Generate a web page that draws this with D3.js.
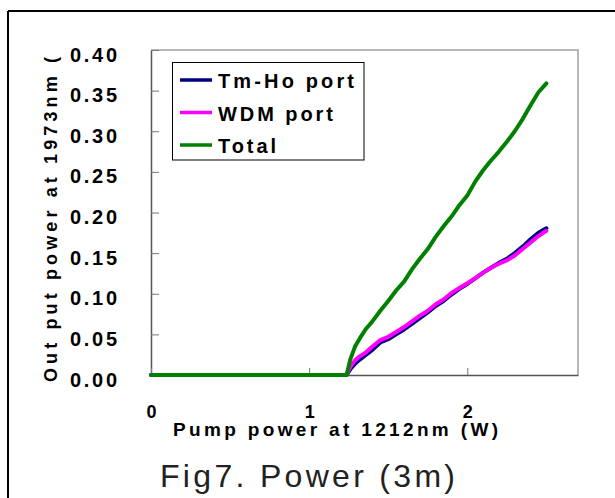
<!DOCTYPE html>
<head>
  <meta charset="utf-8">
  <script src="https://d3js.org/d3.v7.min.js"></script>
  <style>
  body,html {margin:0; background:#fff; font-family:"Liberation Sans", Arial, sans-serif;}
  .lbl {font-weight:bold; fill:#000;}
</style>
</head>

<body>
  <script>

    const width = 615;
    const height = 498;

    // DATA
    const pump = [0, 1.237, 1.26, 1.29, 1.32, 1.36, 1.40, 1.45, 1.50, 1.55, 1.60, 1.65, 1.70, 1.75, 1.80,
      1.85, 1.90, 1.95, 2.00, 2.05, 2.10, 2.15, 2.20, 2.25, 2.30, 2.35, 2.40, 2.45, 2.50];
    const tmHo = [0, 0, 0.007, 0.014, 0.019, 0.025, 0.031, 0.040, 0.044, 0.050, 0.056, 0.063, 0.070, 0.077, 0.085,
      0.091, 0.099, 0.106, 0.112, 0.119, 0.126, 0.132, 0.138, 0.143, 0.150, 0.158, 0.167, 0.175, 0.1805];
    const wdm = [0, 0, 0.010, 0.018, 0.023, 0.028, 0.035, 0.043, 0.047, 0.053, 0.059, 0.066, 0.073, 0.079, 0.087,
      0.093, 0.101, 0.107, 0.113, 0.119, 0.126, 0.132, 0.137, 0.141, 0.147, 0.155, 0.163, 0.171, 0.1775];
    const total = [0, 0, 0.019, 0.035, 0.045, 0.057, 0.066, 0.079, 0.091, 0.104, 0.115, 0.130, 0.143, 0.155, 0.170,
      0.183, 0.195, 0.209, 0.221, 0.238, 0.252, 0.264, 0.275, 0.287, 0.300, 0.315, 0.332, 0.348, 0.359];

    const seriesNames = ["Tm-Ho port", "WDM port", "Total"];
    const seriesColors = ["#000080", "#ff00ff", "#008000"];
    const seriesValues = [tmHo, wdm, total];
    const legendWidths = [136, 115, 58];

    const xTicks = [0, 1, 2];
    const yTicks = [0, 0.05, 0.10, 0.15, 0.20, 0.25, 0.30, 0.35, 0.40];

    const xLabel = "Pump power at 1212nm (W)";
    const yLabel = "Out put power at 1973nm (";
    const title = "Fig7. Power (3m)";

    const x = d3.scaleLinear().domain([0, 2.7]).range([151, 578]);
    const y = d3.scaleLinear().domain([0, 0.4]).range([375, 50]);

    const svg = d3.select("body").append("svg")
    .attr("width", width)
    .attr("height", height);

    // OUTER FRAME (top + left only visible)
    svg.append("line").attr("x1", 8).attr("y1", 11).attr("x2", width).attr("y2", 11)
    .attr("stroke", "#000").attr("stroke-width", 2);
    svg.append("line").attr("x1", 8).attr("y1", 11).attr("x2", 8).attr("y2", height)
    .attr("stroke", "#000").attr("stroke-width", 2);

    // PLOT FRAME top / right
    svg.append("path")
    .attr("d", `M${x(0)},${y(0.4)}H${x(2.7)}V${y(0)}`)
    .attr("fill", "none").attr("stroke", "#a0a0a0").attr("stroke-width", 1.5);

    // AXES
    const yAxis = svg.append("g")
    .attr("transform", `translate(${x(0)},0)`)
    .call(d3.axisLeft(y).tickValues(yTicks).tickFormat(d3.format(".2f"))
      .tickSizeInner(-8).tickSizeOuter(0).tickPadding(34));
    yAxis.select(".domain").attr("stroke", "#555").attr("stroke-width", 1.5);
    yAxis.selectAll(".tick line").attr("stroke", "#777");
    yAxis.selectAll("text")
    .attr("class", "lbl")
    .attr("dy", 11)
    .attr("textLength", 47)
    .attr("lengthAdjust", "spacing")
    .style("font-size", "20px");

    const xAxis = svg.append("g")
    .attr("transform", `translate(0,${y(0)})`)
    .call(d3.axisBottom(x).tickValues(xTicks).tickFormat(d3.format("d"))
      .tickSizeInner(-7).tickSizeOuter(0));
    xAxis.select(".domain").attr("stroke", "#555").attr("stroke-width", 1.5);
    xAxis.selectAll(".tick line").attr("stroke", "#777");
    xAxis.selectAll("text")
    .attr("class", "lbl")
    .attr("y", 43)
    .attr("dy", 0)
    .style("font-size", "18px");

    // AXIS TITLES
    svg.append("text")
    .attr("class", "lbl")
    .attr("x", 173).attr("y", 436)
    .attr("textLength", 325).attr("lengthAdjust", "spacing")
    .style("font-size", "19px")
    .text(xLabel);

    svg.append("text")
    .attr("class", "lbl")
    .attr("transform", "translate(57,382) rotate(-90)")
    .attr("textLength", 325).attr("lengthAdjust", "spacing")
    .style("font-size", "18px")
    .text(yLabel);

    // LINES
    const line = d3.line()
    .x((d, i) => x(pump[i]))
    .y(d => y(d));

    svg.selectAll(".series")
    .data(seriesValues)
    .enter()
    .append("path")
    .classed("series", true)
    .attr("d", line)
    .attr("fill", "none")
    .attr("stroke", (d, i) => seriesColors[i])
    .attr("stroke-width", 4)
    .attr("stroke-linejoin", "round")
    .attr("stroke-linecap", "round");

    // LEGEND
    const legend = svg.append("g");
    legend.append("rect")
    .attr("x", 172.5).attr("y", 62.5).attr("width", 191.5).attr("height", 97.5)
    .attr("fill", "#fff").attr("stroke", "#000").attr("stroke-width", 1);

    const rows = legend.selectAll(".row")
    .data(seriesNames)
    .enter()
    .append("g")
    .attr("transform", (d, i) => `translate(0,${80 + i * 32.5})`);

    rows.append("line")
    .attr("x1", 180).attr("x2", 212)
    .attr("stroke", (d, i) => seriesColors[i])
    .attr("stroke-width", 3.5);

    rows.append("text")
    .attr("class", "lbl")
    .attr("x", 218).attr("y", 8)
    .attr("textLength", (d, i) => legendWidths[i]).attr("lengthAdjust", "spacing")
    .style("font-size", "20px")
    .text(d => d);

    // CAPTION
    svg.append("text")
    .attr("x", 160).attr("y", 487)
    .attr("textLength", 295).attr("lengthAdjust", "spacing")
    .style("font-size", "32px")
    .style("fill", "#222")
    .text(title);

  </script>
</body>
